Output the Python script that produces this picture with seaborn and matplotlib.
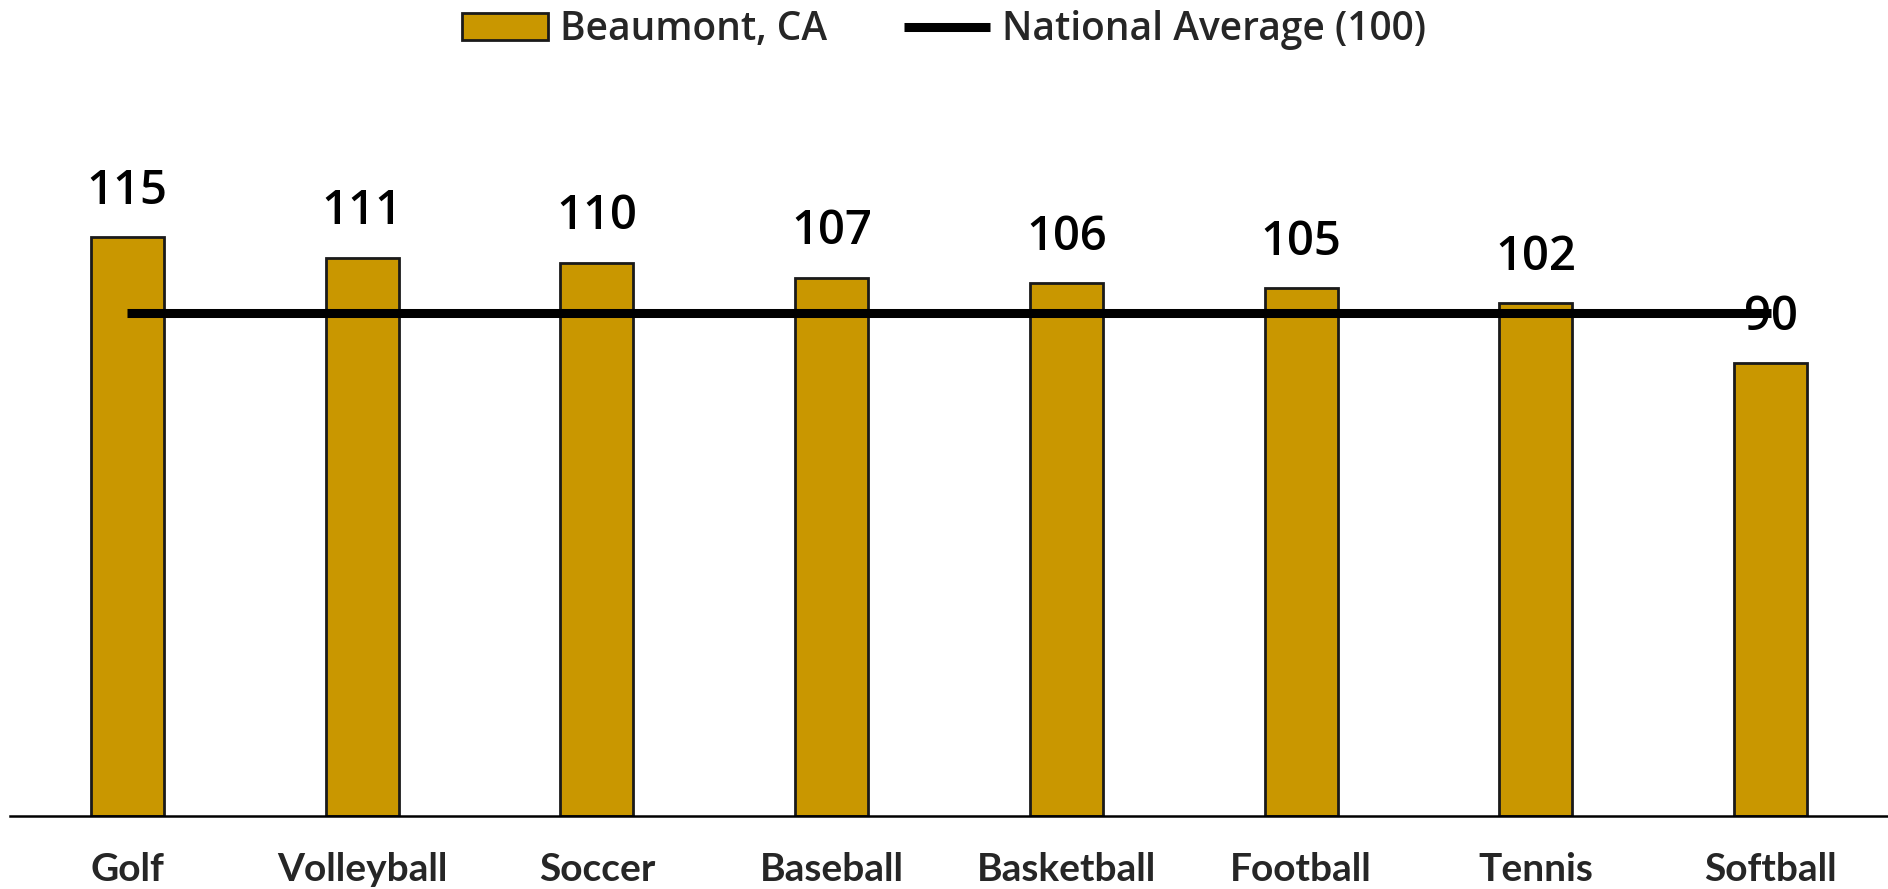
import pandas as pd
import matplotlib.pyplot as plt
import seaborn as sns
from matplotlib.patches import Patch
from matplotlib.lines import Line2D

sports = ['Golf', 'Volleyball', 'Soccer', 'Baseball', 'Basketball', 'Football', 'Tennis', 'Softball']
beaumont = [115, 111, 110, 107, 106, 105, 102, 90]
national = [100, 100, 100, 100, 100, 100, 100, 100]

bar_color = '#C99700'
df = pd.DataFrame({'sport': sports, 'beaumont': beaumont, 'national': national})

sns.set_style('white')
plt.rcParams['font.family'] = ['Open Sans', 'DejaVu Sans']

fig = plt.figure(figsize=(18.88, 8.89), dpi=100)
ax = fig.add_axes([0.0053, 0.082, 0.9947, 0.849])

sns.barplot(data=df, x='sport', y='beaumont', color=bar_color, width=0.31,
            edgecolor='#1a1a1a', linewidth=2, saturation=1, ax=ax)
sns.lineplot(data=df, x='sport', y='national', color='black', linewidth=6.5,
             solid_capstyle='butt', ax=ax, zorder=5)

ax.bar_label(ax.containers[0], padding=16, fontsize=34, fontweight='semibold',
             color='black')

ax.set_xlim(-0.5, 7.5)
ax.set_ylim(0, 150)
ax.set_xlabel('')
ax.set_ylabel('')
ax.set_yticks([])
for s in ['top', 'left', 'right']:
    ax.spines[s].set_visible(False)
ax.spines['bottom'].set_color('black')
ax.spines['bottom'].set_linewidth(1.8)
ax.tick_params(axis='x', length=0, pad=26)
for lab in ax.get_xticklabels():
    lab.set_fontfamily(['Lato', 'DejaVu Sans'])
    lab.set_fontweight('bold')
    lab.set_fontsize(28)

handles = [Patch(facecolor=bar_color, edgecolor='#1a1a1a', linewidth=2),
           Line2D([0], [0], color='black', linewidth=6.5, solid_capstyle='butt')]
fig.legend(handles, ['Beaumont, CA', 'National Average (100)'], loc='center',
           bbox_to_anchor=(0.5, 0.966), ncol=2, frameon=False,
           prop={'size': 28, 'weight': 'semibold'},
           handlelength=2.2, handleheight=0.7, handletextpad=0.3,
           columnspacing=2.0)

fig.savefig('out.png', dpi=100)
